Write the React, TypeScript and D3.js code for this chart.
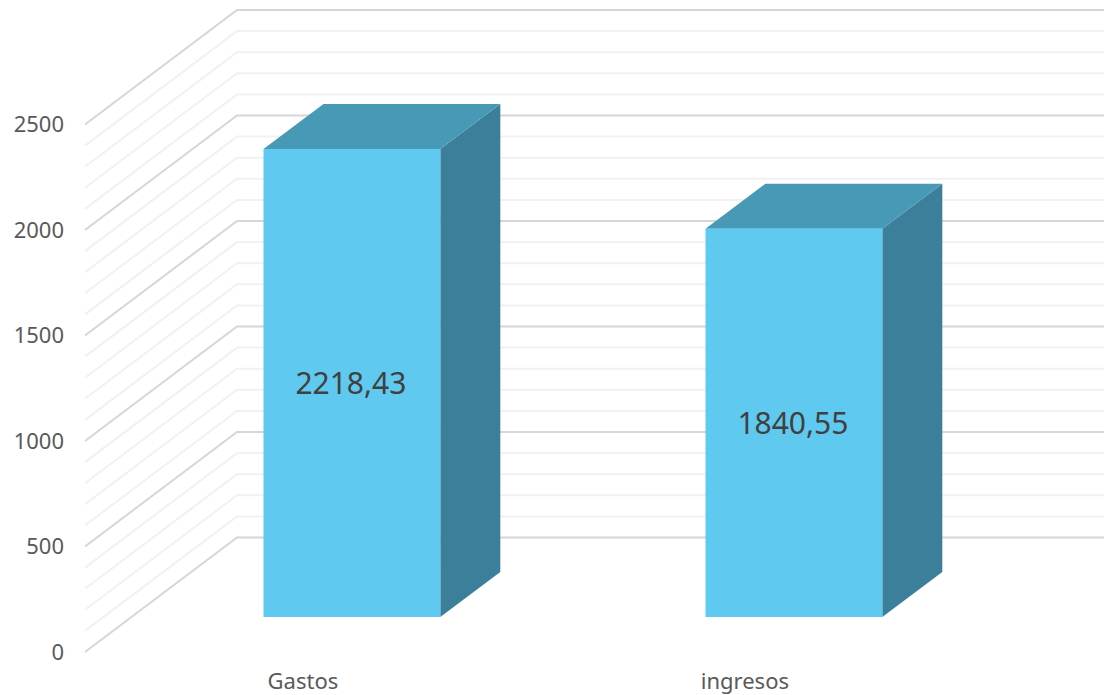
import React from "react";
import * as d3 from "d3";

const categories = ["Gastos", "ingresos"];
const values = [2218.43, 1840.55];
const valueLabels = ["2218,43", "1840,55"];
const majorTicks = [0, 500, 1000, 1500, 2000, 2500];
const minorTicks = [100, 200, 300, 400, 600, 700, 800, 900, 1100, 1200, 1300, 1400, 1600, 1700, 1800, 1900, 2100, 2200, 2300, 2400];

const W = 1104;
const H = 695;
const FONT = "'Noto Sans', sans-serif";

const y = d3.scaleLinear().domain([0, 2500]).range([652, 124.5]);
const x = d3.scaleBand<string>().domain(categories).range([130.9, 1014.9]).paddingInner(0.6).paddingOuter(0.3);

const wall = { dx: 152, dy: -114.5 };
const barDepth = { dx: 60, dy: -45 };
const barBaseShift = -35;

const gridPath = d3.line<[number, number]>();

export default function App() {
  const grid = (v: number) =>
    gridPath([
      [85, y(v)],
      [85 + wall.dx, y(v) + wall.dy],
      [W, y(v) + wall.dy],
    ]) as string;
  const bw = x.bandwidth();
  const yb = (v: number) => y(v) + barBaseShift;

  return (
    <svg width={W} height={H} viewBox={`0 0 ${W} ${H}`} style={{ position: "absolute", left: 0, top: 0, background: "#fff" }}>
      {minorTicks.map((v) => (
        <path key={v} d={grid(v)} fill="none" stroke="#f1f1f1" strokeWidth={2} />
      ))}
      {majorTicks.map((v) => (
        <path key={v} d={grid(v)} fill="none" stroke="#d6d6d6" strokeWidth={2} />
      ))}
      {majorTicks.map((v) => (
        <text key={v} x={64} y={y(v) - 1.5} textAnchor="end" dominantBaseline="central" fontFamily={FONT} fontSize={22} fill="#595959">
          {v}
        </text>
      ))}
      {categories.map((c, i) => {
        const x0 = x(c) as number;
        const x1 = x0 + bw;
        const top = yb(values[i]);
        const bottom = yb(0);
        const { dx, dy } = barDepth;
        const poly = (pts: [number, number][]) => pts.map((p) => p.join(",")).join(" ");
        return (
          <g key={c}>
            <polygon points={poly([[x1, top], [x1 + dx, top + dy], [x1 + dx, bottom + dy], [x1, bottom]])} fill="#3C7F9A" />
            <polygon points={poly([[x0, top], [x0 + dx, top + dy], [x1 + dx, top + dy], [x1, top]])} fill="#4799B6" />
            <rect x={x0} y={top} width={bw} height={bottom - top} fill="#60C9EF" />
            <text x={x0 + bw / 2 - 1} y={(top + bottom) / 2} textAnchor="middle" dominantBaseline="central" fontFamily={FONT} fontSize={30} fill="#404040">
              {valueLabels[i]}
            </text>
            <text x={x0 + bw / 2 - 49} y={679.5} textAnchor="middle" dominantBaseline="central" fontFamily={FONT} fontSize={22} fill="#595959">
              {c}
            </text>
          </g>
        );
      })}
    </svg>
  );
}
